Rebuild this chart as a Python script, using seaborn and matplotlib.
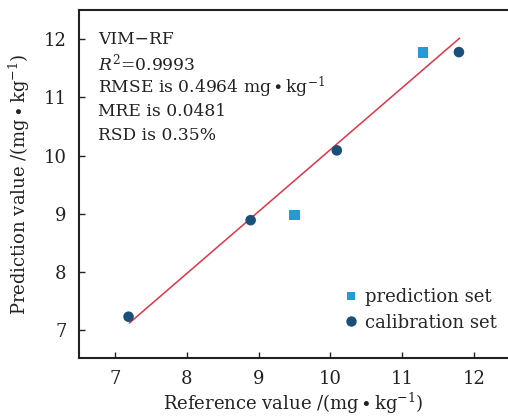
import matplotlib
matplotlib.use("Agg")
import matplotlib.pyplot as plt
import seaborn as sns
import pandas as pd

cal_x = [7.19, 8.89, 10.09, 11.79]
cal_y = [7.23, 8.89, 10.09, 11.78]
pred_x = [9.50, 11.29]
pred_y = [8.98, 11.77]
fit_x = [7.2, 11.8]
fit_y = [7.12, 12.02]
ticks = [7, 8, 9, 10, 11, 12]
metrics = ["VIM\u2212RF", "$R^2$=0.9993", "RMSE is 0.4964 mg\u2009\u2219\u2009kg$^{-1}$",
           "MRE is 0.0481", "RSD is 0.35%"]

sns.set_theme(style="ticks")
plt.rcParams['font.family'] = ['DejaVu Serif']
plt.rcParams['mathtext.fontset'] = 'dejavuserif'

df = pd.DataFrame({
    "x": pred_x + cal_x,
    "y": pred_y + cal_y,
    "set": ["prediction set"] * len(pred_x) + ["calibration set"] * len(cal_x),
})
fit = pd.DataFrame({"x": fit_x, "y": fit_y})

fig = plt.figure(figsize=(5.08, 4.19), dpi=100)
ax = fig.add_axes([0.1555, 0.1456, 0.844, 0.830])

sns.lineplot(data=fit, x="x", y="y", ax=ax, color="#e03448", linewidth=1.1, zorder=2)
sns.scatterplot(data=df, x="x", y="y", hue="set", style="set",
                markers={"prediction set": "s", "calibration set": "o"},
                palette={"prediction set": "#259ad6", "calibration set": "#1a4f7c"},
                s=58, linewidth=0, ax=ax, zorder=3)

ax.set_xlim(6.5, 12.47)
ax.set_ylim(6.52, 12.5)
ax.set_xticks(ticks)
ax.set_yticks(ticks)
ax.tick_params(direction="in", length=4, width=1.0, labelsize=13, colors="#222222", pad=9)
for side in ["left", "bottom", "top"]:
    ax.spines[side].set_linewidth(1.5)
    ax.spines[side].set_color("#222222")
ax.spines["right"].set_visible(False)
ax.set_xlabel("Reference value /(mg\u2009\u2219\u2009kg$^{-1}$)", fontsize=13, color="#222222", labelpad=2)
ax.set_ylabel("Prediction value /(mg\u2009\u2219\u2009kg$^{-1}$)", fontsize=13, color="#222222", labelpad=8)

for i, t in enumerate(metrics):
    ax.text(0.045, 0.917 - i * 0.069, t, transform=ax.transAxes,
            fontsize=12.3, color="#222222", va="center", ha="left")

leg = ax.legend(loc="lower right", frameon=False, fontsize=13, handletextpad=0.3,
                borderaxespad=0.2, labelspacing=0.4, handlelength=1.0,
                bbox_to_anchor=(1.0, 0.045))
for h, size in zip(leg.legend_handles, [6, 7.5]):
    h.set_markersize(size)

fig.savefig("out.png", dpi=100)
